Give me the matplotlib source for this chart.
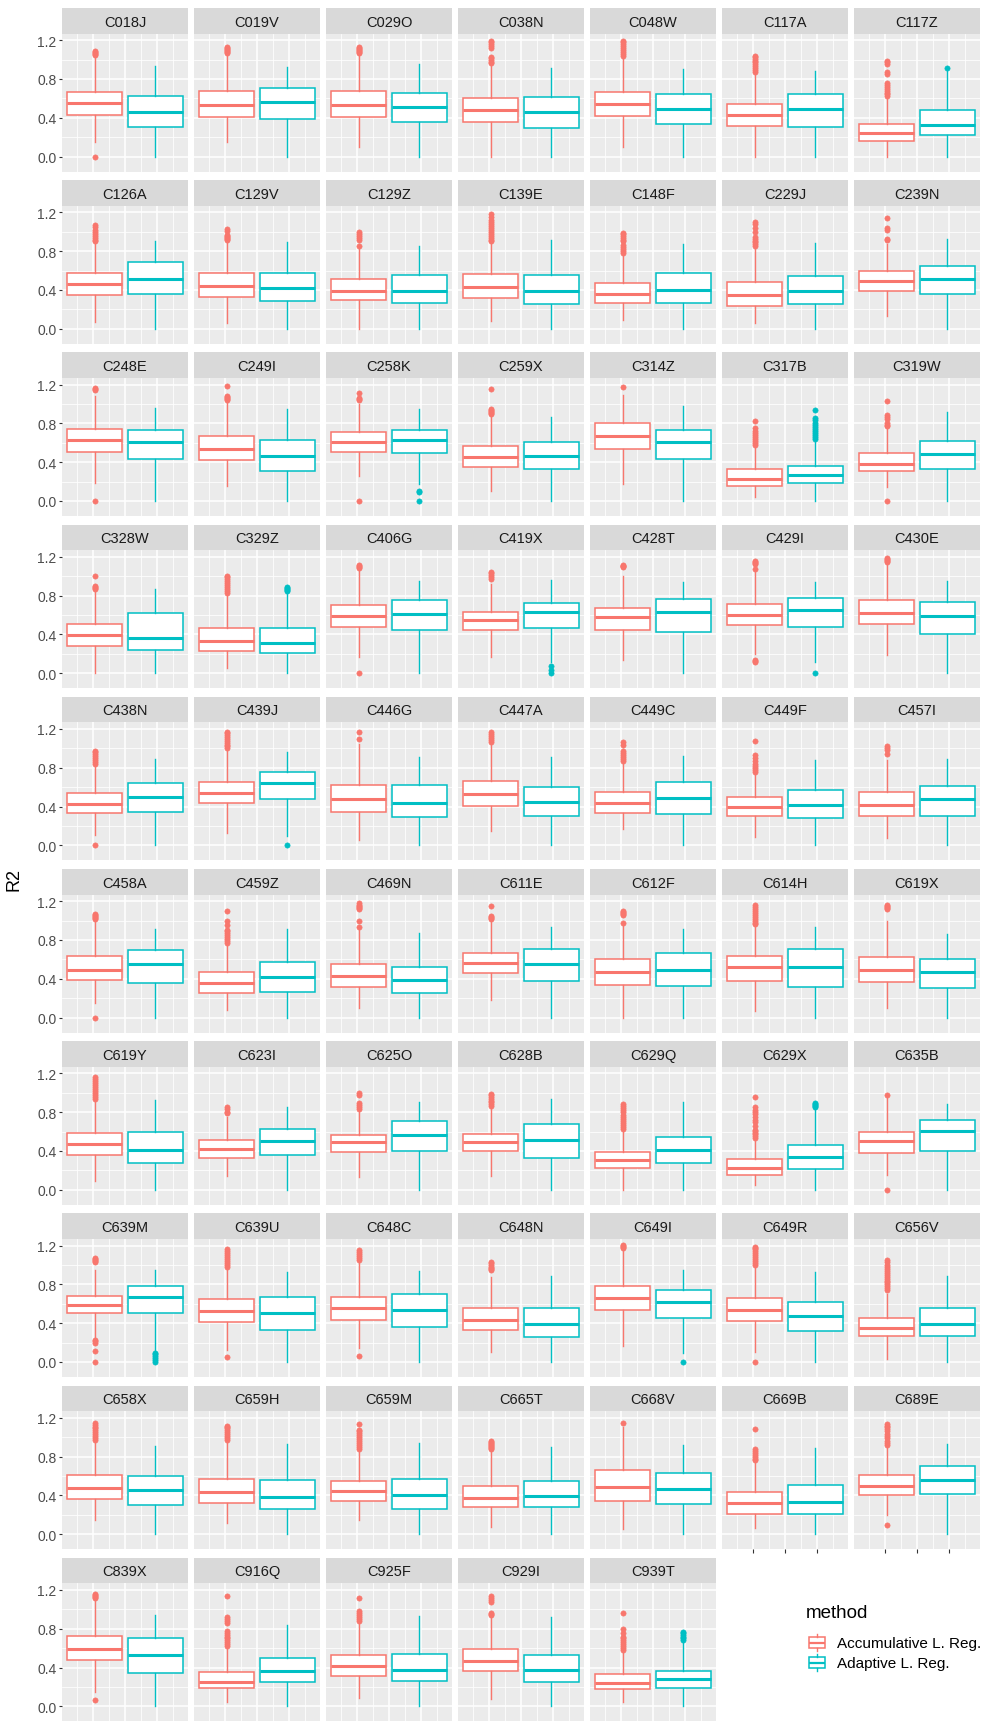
import matplotlib

matplotlib.use("Agg")
import matplotlib.pyplot as plt
from matplotlib.patches import Rectangle

plt.rcParams["font.family"] = ["Liberation Sans", "DejaVu Sans"]

# ---- per-site R2 summaries: whisker low, Q1, median, Q3, whisker high ----
SITES = [
    "C018J", "C019V", "C029O", "C038N", "C048W", "C117A", "C117Z",
    "C126A", "C129V", "C129Z", "C139E", "C148F", "C229J", "C239N",
    "C248E", "C249I", "C258K", "C259X", "C314Z", "C317B", "C319W",
    "C328W", "C329Z", "C406G", "C419X", "C428T", "C429I", "C430E",
    "C438N", "C439J", "C446G", "C447A", "C449C", "C449F", "C457I",
    "C458A", "C459Z", "C469N", "C611E", "C612F", "C614H", "C619X",
    "C619Y", "C623I", "C625O", "C628B", "C629Q", "C629X", "C635B",
    "C639M", "C639U", "C648C", "C648N", "C649I", "C649R", "C656V",
    "C658X", "C659H", "C659M", "C665T", "C668V", "C669B", "C689E",
    "C839X", "C916Q", "C925F", "C929I", "C939T",
]

# Accumulative L. Reg.
ACC_LO = [0.15, 0.15, 0.10, 0.00, 0.10, 0.00, 0.00,
          0.07, 0.06, 0.00, 0.08, 0.09, 0.06, 0.135,
          0.19, 0.15, 0.26, 0.105, 0.18, 0.04, 0.14,
          0.00, 0.05, 0.17, 0.17, 0.14, 0.20, 0.19,
          0.11, 0.125, 0.06, 0.15, 0.165, 0.09, 0.08,
          0.155, 0.08, 0.095, 0.18, 0.00, 0.07, 0.10,
          0.09, 0.145, 0.13, 0.145, 0.00, 0.05, 0.15,
          0.245, 0.12, 0.14, 0.10, 0.165, 0.10, 0.03,
          0.15, 0.11, 0.145, 0.075, 0.05, 0.065, 0.20,
          0.15, 0.05, 0.09, 0.08, 0.04]
ACC_Q1 = [0.43, 0.41, 0.41, 0.355, 0.42, 0.32, 0.16,
          0.35, 0.33, 0.295, 0.315, 0.27, 0.235, 0.39,
          0.50, 0.42, 0.50, 0.35, 0.535, 0.15, 0.31,
          0.28, 0.23, 0.475, 0.445, 0.445, 0.495, 0.51,
          0.33, 0.44, 0.34, 0.41, 0.335, 0.305, 0.305,
          0.385, 0.25, 0.32, 0.455, 0.34, 0.375, 0.365,
          0.355, 0.325, 0.385, 0.395, 0.22, 0.155, 0.38,
          0.50, 0.415, 0.435, 0.325, 0.535, 0.42, 0.265,
          0.365, 0.325, 0.34, 0.285, 0.34, 0.21, 0.405,
          0.475, 0.185, 0.315, 0.36, 0.175]
ACC_MED = [0.555, 0.53, 0.53, 0.485, 0.54, 0.43, 0.245,
           0.46, 0.44, 0.385, 0.43, 0.36, 0.35, 0.49,
           0.625, 0.535, 0.605, 0.45, 0.67, 0.23, 0.385,
           0.39, 0.335, 0.59, 0.545, 0.575, 0.60, 0.625,
           0.425, 0.54, 0.475, 0.525, 0.44, 0.395, 0.42,
           0.495, 0.36, 0.43, 0.565, 0.475, 0.52, 0.495,
           0.47, 0.42, 0.49, 0.49, 0.305, 0.22, 0.50,
           0.59, 0.525, 0.56, 0.435, 0.655, 0.535, 0.355,
           0.475, 0.43, 0.44, 0.37, 0.49, 0.32, 0.50,
           0.595, 0.25, 0.42, 0.465, 0.24]
ACC_Q3 = [0.665, 0.68, 0.68, 0.605, 0.665, 0.54, 0.335,
          0.57, 0.57, 0.51, 0.565, 0.47, 0.48, 0.595,
          0.745, 0.67, 0.715, 0.57, 0.80, 0.33, 0.495,
          0.51, 0.465, 0.70, 0.635, 0.67, 0.715, 0.755,
          0.535, 0.655, 0.625, 0.665, 0.55, 0.495, 0.55,
          0.63, 0.475, 0.555, 0.67, 0.60, 0.635, 0.62,
          0.585, 0.51, 0.565, 0.57, 0.39, 0.315, 0.60,
          0.68, 0.645, 0.675, 0.555, 0.785, 0.655, 0.455,
          0.605, 0.57, 0.545, 0.50, 0.66, 0.435, 0.605,
          0.73, 0.355, 0.53, 0.59, 0.33]
ACC_HI = [1.03, 1.04, 1.05, 0.93, 1.02, 0.86, 0.60,
          0.89, 0.90, 0.82, 0.88, 0.76, 0.83, 0.87,
          1.08, 1.02, 1.00, 0.88, 1.09, 0.56, 0.75,
          0.86, 0.82, 1.05, 0.92, 1.00, 1.05, 1.12,
          0.82, 0.98, 1.05, 1.05, 0.85, 0.74, 0.88,
          1.00, 0.75, 0.90, 1.00, 0.95, 0.94, 1.00,
          0.92, 0.75, 0.80, 0.84, 0.62, 0.50, 0.95,
          0.95, 0.98, 1.02, 0.88, 1.15, 0.99, 0.70,
          0.95, 0.95, 0.86, 0.86, 1.10, 0.73, 0.90,
          1.10, 0.60, 0.86, 0.92, 0.56]
ACC_OUT = [
    [0.0, 1.05, 1.06, 1.07, 1.08, 1.09],
    [1.07, 1.08, 1.09, 1.10, 1.11, 1.12, 1.13],
    [1.07, 1.08, 1.09, 1.10, 1.11, 1.12, 1.13],
    [0.96, 0.98, 1.00, 1.02, 1.03, 1.12, 1.14, 1.16, 1.18, 1.19],
    [1.04, 1.06, 1.08, 1.10, 1.12, 1.14, 1.16, 1.18, 1.19],
    [0.87, 0.89, 0.91, 0.93, 0.95, 0.97, 0.99, 1.01, 1.03, 1.04],
    [0.62, 0.64, 0.66, 0.68, 0.70, 0.72, 0.74, 0.76, 0.85, 0.87, 0.95, 0.97, 0.99],
    [0.90, 0.92, 0.94, 0.96, 0.98, 1.00, 1.02, 1.05, 1.07],
    [0.92, 0.93, 0.94, 0.95, 0.96, 0.97, 1.01, 1.03],
    [0.85, 0.92, 0.94, 0.96, 0.98, 1.00],
    [0.90, 0.92, 0.94, 0.96, 0.98, 1.00, 1.02, 1.04, 1.06, 1.08, 1.10, 1.12, 1.15, 1.18],
    [0.78, 0.80, 0.82, 0.84, 0.86, 0.90, 0.92, 0.94, 0.96, 0.98, 0.99],
    [0.85, 0.87, 0.89, 0.91, 0.93, 0.95, 1.00, 1.04, 1.08, 1.10],
    [0.92, 0.93, 1.02, 1.04, 1.14],
    [0.0, 1.14, 1.15, 1.16],
    [1.04, 1.05, 1.06, 1.07, 1.08, 1.19],
    [0.0, 1.04, 1.05, 1.06, 1.11],
    [0.90, 0.91, 0.92, 0.93, 0.94, 0.95, 1.15],
    [1.18],
    [0.58, 0.60, 0.62, 0.64, 0.66, 0.68, 0.70, 0.72, 0.75, 0.82],
    [0.0, 0.77, 0.78, 0.80, 0.85, 0.87, 0.89, 1.03],
    [0.87, 0.88, 0.89, 0.90, 1.00],
    [0.83, 0.85, 0.87, 0.89, 0.91, 0.93, 0.95, 0.97, 0.99, 1.00],
    [0.0, 1.08, 1.09, 1.10, 1.12],
    [0.97, 0.99, 1.01, 1.03, 1.04],
    [1.09, 1.10, 1.11, 1.12],
    [0.12, 0.13, 0.14, 1.07, 1.13, 1.14, 1.15, 1.16],
    [1.15, 1.16, 1.17, 1.18, 1.19],
    [0.0, 0.84, 0.86, 0.88, 0.90, 0.92, 0.94, 0.96, 0.97],
    [1.00, 1.02, 1.04, 1.06, 1.08, 1.10, 1.12, 1.14, 1.16, 1.17],
    [1.10, 1.17],
    [1.07, 1.09, 1.11, 1.13, 1.15, 1.17],
    [0.87, 0.89, 0.91, 0.93, 0.95, 0.97, 1.04, 1.07],
    [0.76, 0.78, 0.80, 0.82, 0.84, 0.87, 0.90, 0.93, 1.08],
    [0.94, 0.98, 1.00, 1.02],
    [0.0, 1.02, 1.03, 1.04, 1.05, 1.06, 1.07],
    [0.77, 0.79, 0.81, 0.83, 0.85, 0.87, 0.89, 0.90, 0.95, 1.00, 1.10],
    [0.93, 1.00, 1.12, 1.13, 1.14, 1.15, 1.16, 1.18],
    [1.02, 1.03, 1.04, 1.05, 1.15],
    [0.98, 1.06, 1.07, 1.08, 1.09, 1.10],
    [0.96, 0.98, 1.00, 1.02, 1.04, 1.06, 1.08, 1.10, 1.12, 1.14, 1.16],
    [1.12, 1.13, 1.14, 1.15, 1.16],
    [0.94, 0.96, 0.98, 1.00, 1.02, 1.04, 1.06, 1.08, 1.10, 1.12, 1.14, 1.16],
    [0.79, 0.80, 0.83, 0.85],
    [0.83, 0.85, 0.87, 0.89, 0.98, 1.00],
    [0.86, 0.88, 0.90, 0.92, 0.94, 0.96, 0.98, 0.99],
    [0.63, 0.65, 0.67, 0.69, 0.71, 0.73, 0.75, 0.77, 0.80, 0.82, 0.84, 0.86, 0.88],
    [0.53, 0.55, 0.57, 0.59, 0.61, 0.62, 0.66, 0.70, 0.72, 0.75, 0.78, 0.80, 0.82, 0.85, 0.96],
    [0.0, 0.98],
    [0.0, 0.11, 0.20, 0.22, 0.23, 1.03, 1.04, 1.05, 1.06, 1.07],
    [0.05, 0.98, 1.00, 1.02, 1.04, 1.06, 1.08, 1.10, 1.12, 1.14, 1.16],
    [0.06, 1.05, 1.07, 1.09, 1.11, 1.13, 1.15],
    [0.95, 0.96, 0.97, 0.98, 1.00, 1.02, 1.03],
    [1.18, 1.19, 1.20, 1.21],
    [0.0, 1.00, 1.02, 1.04, 1.06, 1.08, 1.10, 1.12, 1.14, 1.16, 1.18, 1.19],
    [0.74, 0.76, 0.78, 0.80, 0.82, 0.84, 0.86, 0.88, 0.90, 0.92, 0.94, 0.96, 0.98, 1.00, 1.03, 1.05],
    [0.97, 0.99, 1.01, 1.03, 1.05, 1.07, 1.09, 1.11, 1.13, 1.15],
    [0.97, 0.99, 1.01, 1.03, 1.05, 1.07, 1.09, 1.10, 1.12],
    [0.88, 0.90, 0.92, 0.94, 0.96, 0.98, 1.00, 1.02, 1.04, 1.06, 1.07, 1.14],
    [0.88, 0.89, 0.90, 0.91, 0.92, 0.93, 0.94, 0.95, 0.96],
    [1.15],
    [0.76, 0.78, 0.80, 0.82, 0.84, 0.86, 0.88, 1.08],
    [0.09, 0.92, 0.94, 0.96, 0.99, 1.01, 1.03, 1.06, 1.08, 1.10, 1.12, 1.14],
    [0.07, 1.12, 1.13, 1.14, 1.15, 1.16],
    [0.62, 0.64, 0.66, 0.68, 0.70, 0.72, 0.74, 0.76, 0.78, 0.86, 0.88, 0.90, 0.92, 1.14],
    [0.88, 0.90, 0.92, 0.94, 0.96, 0.98, 1.12],
    [0.94, 0.95, 0.96, 1.08, 1.10, 1.12, 1.14],
    [0.58, 0.60, 0.62, 0.64, 0.66, 0.68, 0.70, 0.72, 0.76, 0.80, 0.96],
]

# Adaptive L. Reg.
ADP_LO = [0, 0, 0, 0, 0, 0, 0,
          0, 0, 0, 0, 0, 0, 0,
          0, 0, 0.17, 0, 0, 0, 0,
          0, 0, 0, 0.12, 0, 0.11, 0,
          0, 0.10, 0, 0, 0, 0, 0,
          0, 0, 0, 0, 0, 0, 0,
          0, 0, 0, 0, 0, 0, 0,
          0.11, 0, 0, 0, 0.09, 0, 0,
          0, 0, 0, 0, 0, 0, 0,
          0, 0, 0, 0, 0]
ADP_Q1 = [0.30, 0.385, 0.36, 0.29, 0.335, 0.30, 0.22,
          0.36, 0.29, 0.265, 0.255, 0.27, 0.255, 0.355,
          0.435, 0.305, 0.49, 0.33, 0.43, 0.185, 0.33,
          0.235, 0.205, 0.44, 0.47, 0.42, 0.475, 0.405,
          0.34, 0.48, 0.29, 0.305, 0.32, 0.28, 0.305,
          0.36, 0.265, 0.25, 0.38, 0.325, 0.315, 0.31,
          0.275, 0.36, 0.40, 0.33, 0.28, 0.21, 0.395,
          0.51, 0.33, 0.365, 0.255, 0.455, 0.315, 0.265,
          0.30, 0.26, 0.26, 0.275, 0.315, 0.21, 0.415,
          0.345, 0.25, 0.26, 0.255, 0.185]
ADP_MED = [0.46, 0.56, 0.51, 0.46, 0.49, 0.49, 0.325,
           0.515, 0.42, 0.385, 0.39, 0.40, 0.385, 0.51,
           0.605, 0.465, 0.625, 0.465, 0.605, 0.27, 0.485,
           0.365, 0.31, 0.615, 0.635, 0.635, 0.65, 0.585,
           0.50, 0.645, 0.435, 0.445, 0.485, 0.415, 0.475,
           0.555, 0.415, 0.385, 0.555, 0.49, 0.52, 0.47,
           0.415, 0.505, 0.565, 0.51, 0.41, 0.335, 0.61,
           0.67, 0.50, 0.54, 0.395, 0.62, 0.47, 0.39,
           0.455, 0.385, 0.405, 0.395, 0.47, 0.335, 0.56,
           0.53, 0.36, 0.38, 0.37, 0.28]
ADP_Q3 = [0.62, 0.71, 0.655, 0.61, 0.64, 0.645, 0.485,
          0.69, 0.57, 0.55, 0.555, 0.57, 0.545, 0.645,
          0.735, 0.625, 0.735, 0.605, 0.735, 0.36, 0.62,
          0.62, 0.465, 0.755, 0.72, 0.765, 0.78, 0.73,
          0.64, 0.76, 0.62, 0.605, 0.65, 0.57, 0.615,
          0.70, 0.575, 0.525, 0.71, 0.665, 0.705, 0.605,
          0.595, 0.63, 0.705, 0.68, 0.545, 0.46, 0.715,
          0.78, 0.67, 0.705, 0.555, 0.745, 0.62, 0.555,
          0.60, 0.555, 0.565, 0.55, 0.635, 0.51, 0.70,
          0.70, 0.50, 0.535, 0.53, 0.365]
ADP_HI = [0.935, 0.92, 0.95, 0.915, 0.905, 0.88, 0.88,
          0.905, 0.895, 0.85, 0.915, 0.87, 0.885, 0.93,
          0.96, 0.95, 0.95, 0.87, 0.975, 0.62, 0.915,
          0.865, 0.84, 0.955, 0.96, 0.935, 0.935, 0.955,
          0.89, 0.965, 0.91, 0.91, 0.92, 0.88, 0.89,
          0.91, 0.915, 0.87, 0.935, 0.915, 0.935, 0.86,
          0.93, 0.855, 0.91, 0.935, 0.90, 0.83, 0.88,
          0.945, 0.925, 0.935, 0.885, 0.95, 0.93, 0.885,
          0.905, 0.925, 0.945, 0.895, 0.92, 0.885, 0.925,
          0.94, 0.84, 0.93, 0.925, 0.66]
ADP_OUT = [
    [], [], [], [], [], [], [0.915],
    [], [], [], [], [], [], [],
    [], [], [0.0, 0.09, 0.10], [], [],
    [0.64, 0.66, 0.68, 0.70, 0.72, 0.74, 0.76, 0.78, 0.80, 0.84, 0.86, 0.94], [],
    [], [0.85, 0.86, 0.87, 0.88, 0.89], [], [0.0, 0.03, 0.07], [], [0.0], [],
    [], [0.0], [], [], [], [], [],
    [], [], [], [], [], [], [],
    [], [], [], [], [], [0.85, 0.86, 0.87, 0.88, 0.89], [],
    [0.0, 0.02, 0.04, 0.06, 0.08, 0.09], [], [], [], [0.0], [], [],
    [], [], [], [], [], [], [],
    [], [], [], [], [0.68, 0.70, 0.72, 0.74, 0.76, 0.77],
]

METHODS = ("Accumulative L. Reg.", "Adaptive L. Reg.")
COLORS = ("#F8766D", "#00BFC4")
DODGE = (-0.1875, 0.1875)

W, H = 984, 1724          # output size in pixels (dpi 100)
NCOL = 7
LEFT0, COL_STEP, PANEL_W = 62, 132, 126
TOP0, ROW_STEP, STRIP_H, PANEL_H = 9, 172.2, 25.5, 138


def box_stats(lo, q1, med, q3, hi, out):
    return dict(whislo=lo, q1=q1, med=med, q3=q3, whishi=hi, fliers=out)


def draw_box(ax, st, pos, color):
    ax.bxp([st], positions=[pos], widths=0.34, patch_artist=True,
           showcaps=False, manage_ticks=False,
           boxprops=dict(facecolor="white", edgecolor=color, linewidth=1.1),
           medianprops=dict(color=color, linewidth=2.2, solid_capstyle="butt"),
           whiskerprops=dict(color=color, linewidth=1.0),
           flierprops=dict(marker="o", markerfacecolor=color,
                           markeredgecolor=color, markersize=3.8,
                           markeredgewidth=0.4, linestyle="none"))


def main():
    fig = plt.figure(figsize=(W / 100, H / 100), dpi=100)
    n = len(SITES)
    last_row = (n - 1) // NCOL

    for i, site in enumerate(SITES):
        r, c = divmod(i, NCOL)
        left = LEFT0 + c * COL_STEP
        strip_top = TOP0 + r * ROW_STEP
        top = strip_top + STRIP_H

        ax = fig.add_axes([left / W, 1 - (top + PANEL_H) / H,
                           PANEL_W / W, PANEL_H / H])
        ax.set_facecolor("#EBEBEB")
        for sp in ax.spines.values():
            sp.set_visible(False)

        draw_box(ax, box_stats(ACC_LO[i], ACC_Q1[i], ACC_MED[i], ACC_Q3[i],
                               ACC_HI[i], ACC_OUT[i]), DODGE[0], COLORS[0])
        draw_box(ax, box_stats(ADP_LO[i], ADP_Q1[i], ADP_MED[i], ADP_Q3[i],
                               ADP_HI[i], ADP_OUT[i]), DODGE[1], COLORS[1])

        ax.set_xlim(-0.39, 0.39)
        ax.set_ylim(-0.154, 1.269)
        ax.set_yticks([0.0, 0.4, 0.8, 1.2])
        ax.set_yticks([0.2, 0.6, 1.0], minor=True)
        ax.set_xticks([-0.2, 0.0, 0.2])
        ax.set_xticks([-0.3, -0.1, 0.1, 0.3], minor=True)
        ax.set_xticklabels([])
        ax.grid(which="major", color="white", linewidth=1.1)
        ax.grid(which="minor", color="white", linewidth=0.55)
        ax.set_axisbelow(True)

        ax.tick_params(which="minor", length=0)
        if c == 0:
            ax.set_yticklabels(["0.0", "0.4", "0.8", "1.2"])
            ax.tick_params(axis="y", which="major", length=2.5, width=0.8,
                           color="#333333", labelsize=10,
                           labelcolor="#4D4D4D", pad=1.5)
        else:
            ax.set_yticklabels([])
            ax.tick_params(axis="y", which="major", length=0)
        # x ticks only show where no panel sits underneath (bottom row runs
        # to the figure edge, so its ticks fall outside the canvas)
        if i + NCOL >= n and r < last_row:
            ax.tick_params(axis="x", which="major", length=3, width=0.8,
                           color="#333333")
        else:
            ax.tick_params(axis="x", which="major", length=0)

        sax = fig.add_axes([left / W, 1 - top / H, PANEL_W / W, STRIP_H / H])
        sax.set_facecolor("#D9D9D9")
        sax.set_xticks([])
        sax.set_yticks([])
        for sp in sax.spines.values():
            sp.set_visible(False)
        sax.text(0.5, 0.47, site, ha="center", va="center", fontsize=10.5,
                 color="#1A1A1A", transform=sax.transAxes)

    fig.text(14 / W, 1 - 880 / H, "R2", rotation=90, ha="center",
             va="center", fontsize=13, color="black")

    # legend drawn in pixel space
    lax = fig.add_axes([0, 0, 1, 1], facecolor="none")
    lax.set_xlim(0, W)
    lax.set_ylim(H, 0)
    lax.axis("off")
    lax.text(806, 1614, "method", ha="left", va="center", fontsize=13.5,
             color="black")
    for j, (label, color) in enumerate(zip(METHODS, COLORS)):
        yc = 1644 + j * 20
        lax.add_patch(Rectangle((809, yc - 5.5), 16, 11, facecolor="white",
                                edgecolor=color, linewidth=1.1))
        lax.plot([809, 825], [yc, yc], color=color, linewidth=1.6,
                 solid_capstyle="butt")
        lax.plot([817, 817], [yc - 8.5, yc - 5.5], color=color, linewidth=1.0)
        lax.plot([817, 817], [yc + 5.5, yc + 8.5], color=color, linewidth=1.0)
        lax.text(837, yc, label, ha="left", va="center", fontsize=11,
                 color="black")

    fig.savefig("out.png", dpi=100)
    plt.close(fig)


if __name__ == "__main__":
    main()
